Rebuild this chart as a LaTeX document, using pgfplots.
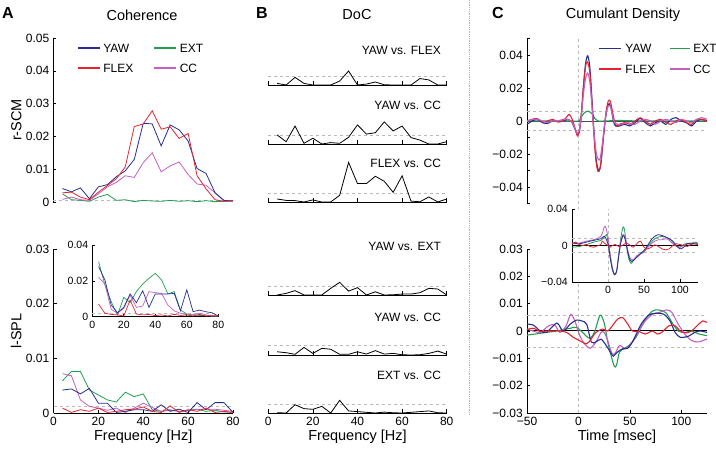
\documentclass[border=0pt]{standalone}
\usepackage{fontspec}
\setmainfont{Liberation Sans}
\usepackage{pgfplots}
\usepackage{pgfplotstable}
\pgfplotsset{compat=1.18}
\definecolor{cyaw}{RGB}{40,45,145}
\definecolor{cflex}{RGB}{230,35,45}
\definecolor{cext}{RGB}{30,160,80}
\definecolor{ccc}{RGB}{195,95,195}
\newcommand{\fs}[1]{\fontsize{#1}{#1}\selectfont}

\pgfplotstableread{
f yaw flex cc ext
4 0.0041 0.0028 0.0008 0.0025
8 0.0031 0.0030 0.0015 0.0007
12 0.0043 0.0015 0.0007 0.0005
16 0.0010 0.0007 0.0005 0.0002
20 0.0046 0.0030 0.0025 0.0015
24 0.0053 0.0050 0.0046 0.0023
28 0.0077 0.0071 0.0060 0.0005
32 0.0095 0.0107 0.0080 0.0007
36 0.0130 0.0230 0.0075 0.0001
40 0.0240 0.0238 0.0120 0.0005
44 0.0238 0.0278 0.0150 0.0003
48 0.0171 0.0222 0.0092 0.0002
52 0.0235 0.0229 0.0110 0.0005
56 0.0220 0.0194 0.0122 0.0002
60 0.0186 0.0209 0.0084 0.0004
64 0.0102 0.0080 0.0055 0.0001
68 0.0087 0.0040 0.0051 0.0004
72 0.0028 0.0007 0.0028 0.0001
76 0.0005 0.0002 0.0003 0.0002
80 0.0003 0.0004 0.0005 0.0002
}\cohtop

\pgfplotstableread{
f yaw flex cc ext
4 0.0042 0.0009 0.0072 0.0059
8 0.0044 0.0001 0.0068 0.0076
12 0.0035 0.0006 0.0024 0.0076
16 0.0045 0.0003 0.0012 0.0042
20 0.0018 0.0009 0.0009 0.0033
24 0.0018 0.0001 0.0005 0.0024
28 0.0001 0.0003 0.0009 0.0020
32 0.0003 0.0006 0.0001 0.0038
36 0.0006 0.0007 0.0009 0.0030
40 0.0006 0.0011 0.0018 0.0035
44 0.0003 0.0003 0.0010 0.0006
48 0.0015 0.0001 0.0003 0.0003
52 0.0003 0.0013 0.0006 0.0005
56 0.0007 0.0001 0.0003 0.0003
60 0.0001 0.0006 0.0005 0.0005
64 0.0019 0.0003 0.0006 0.0007
68 0.0006 0.0009 0.0007 0.0003
72 0.0019 0.0001 0.0007 0.0005
76 0.0019 0.0003 0.0005 0.0002
80 0.0001 0.0001 0.0003 0.0001
}\cohbot

\pgfplotstableread{
f yaw flex cc ext
4 0.0280 0.0070 0.0220 0.0307
8 0.0205 0.0019 0.0182 0.0177
12 0.0065 0.0013 0.0041 0.0084
16 0.0022 0.0010 0.0019 0.0010
20 0.0052 0.0004 0.0047 0.0108
24 0.0127 0.0093 0.0120 0.0078
28 0.0078 0.0015 0.0052 0.0140
32 0.0145 0.0010 0.0060 0.0182
36 0.0052 0.0013 0.0140 0.0214
40 0.0127 0.0006 0.0134 0.0242
44 0.0127 0.0010 0.0130 0.0205
48 0.0127 0.0004 0.0065 0.0127
52 0.0130 0.0013 0.0033 0.0140
56 0.0033 0.0007 0.0019 0.0037
60 0.0150 0.0010 0.0010 0.0015
64 0.0028 0.0004 0.0010 0.0010
68 0.0037 0.0013 0.0019 0.0007
72 0.0028 0.0004 0.0010 0.0006
76 0.0022 0.0006 0.0004 0.0004
80 0.0004 0.0004 0.0004 0.0004
}\cohins

\pgfplotstableread{
f yf yc fc ye yc2 ec
4 0.7 3.9 1.3 0.0 1.4 0.1
8 0.0 1.0 0.7 0.7 1.0 0.0
12 3.3 7.8 0.6 1.9 0.3 3.6
16 0.7 0.3 0.0 0.0 3.3 1.9
20 0.0 2.5 0.9 0.0 0.7 1.6
24 0.0 0.0 0.0 0.0 2.9 2.9
28 0.0 0.6 0.0 2.9 2.5 0.0
32 1.7 0.3 2.9 5.5 0.3 5.5
36 6.1 2.9 17.2 1.7 0.3 0.9
40 0.0 8.3 8.0 3.2 1.4 0.6
44 0.4 4.3 8.0 0.0 0.4 0.3
48 1.3 4.9 11.2 1.4 1.9 0.0
52 0.1 9.6 9.0 0.0 0.4 0.4
56 0.0 5.7 4.2 0.1 0.7 0.1
60 0.0 7.8 11.4 0.4 0.1 0.0
64 0.0 2.8 0.4 0.4 0.0 0.3
68 2.8 1.7 0.1 1.0 0.1 0.6
72 2.2 0.0 2.2 2.9 0.7 0.9
76 0.0 0.0 0.0 2.6 1.7 0.1
80 0.0 1.0 1.3 0.0 0.4 0.0
}\doc

\pgfplotsset{
  base/.style={scale only axis, clip=false, scaled ticks=false,
    axis line style={line width=0.6pt},
    tick style={black, line width=0.6pt},
    tick align=inside, major tick length=3pt, minor tick length=3pt,
    tick label style={font=\fs{12}, inner sep=1pt},
    xticklabel style={yshift=-3pt}, yticklabel style={xshift=-3pt},
    label style={font=\fs{14.5}},
  },
  thr/.style={gray!55, dashed, line width=0.6pt},
  dl/.style={line width=0.8pt},
  cl/.style={line width=1.1pt, smooth},
  lk/.style={line width=1.1pt, forget plot},
  doc/.style={base, width=178.4pt, height=46pt, xmin=0, xmax=80, ymin=0, ymax=20,
    axis x line*=bottom, axis y line=none, xtick={0,20,40,60,80}, xticklabels={},
    major tick length=3.5pt},
  docl/.style={black, line width=0.8pt},
}

\begin{document}
\begin{tikzpicture}
\path[use as bounding box] (0,0) rectangle (716pt,453pt);

% titles
\node[font=\fs{16}\bfseries] at (8pt,440pt) {A};
\node[font=\fs{14.5}] at (142pt,438pt) {Coherence};
\node[font=\fs{16}\bfseries] at (262pt,440pt) {B};
\node[font=\fs{14.5}] at (357pt,438pt) {DoC};
\node[font=\fs{16}\bfseries] at (498pt,440pt) {C};
\node[font=\fs{14.5}] at (623pt,438pt) {Cumulant Density};
\draw[gray!60, densely dotted, line width=0.8pt] (469.5pt,453pt) -- (469.5pt,38pt);

% ---------- A top ----------
\begin{axis}[base, at={(53.5pt,251pt)}, anchor=south west, width=179.5pt, height=164pt,
  xmin=0, xmax=80, ymin=0, ymax=0.05, axis x line=none, axis y line*=left,
  ytick={0,0.01,0.02,0.03,0.04,0.05}, yticklabels={0,0.01,0.02,0.03,0.04,0.05},
  ylabel={r-SCM}]
\addplot[thr] coordinates {(0,0.0006) (80,0.0006)};
\addplot[cext, dl] table[x=f, y=ext] {\cohtop};
\addplot[ccc, dl] table[x=f, y=cc] {\cohtop};
\addplot[cyaw, dl] table[x=f, y=yaw] {\cohtop};
\addplot[cflex, dl] table[x=f, y=flex] {\cohtop};
% legend keys
\addplot[cyaw, lk] coordinates {(10.9,0.04695) (20.7,0.04695)};
\addplot[cext, lk] coordinates {(44.8,0.04695) (54.6,0.04695)};
\addplot[cflex, lk] coordinates {(10.9,0.04085) (20.7,0.04085)};
\addplot[ccc, lk] coordinates {(44.8,0.04085) (54.6,0.04085)};
\node[anchor=west, font=\fs{12}, inner sep=0pt] at (axis cs:22.1,0.04695) {YAW};
\node[anchor=west, font=\fs{12}, inner sep=0pt] at (axis cs:56.2,0.04695) {EXT};
\node[anchor=west, font=\fs{12}, inner sep=0pt] at (axis cs:22.1,0.04085) {FLEX};
\node[anchor=west, font=\fs{12}, inner sep=0pt] at (axis cs:56.2,0.04085) {CC};
\end{axis}

% ---------- A bottom ----------
\begin{axis}[base, at={(53.5pt,40pt)}, anchor=south west, width=179.5pt, height=164pt,
  xmin=0, xmax=80, ymin=0, ymax=0.03, axis lines*=left,
  xtick={0,20,40,60,80}, xticklabels={0,20,40,60,80},
  ytick={0,0.01,0.02,0.03}, yticklabels={0,0.01,0.02,0.03},
  xlabel={Frequency [Hz]}, ylabel={l-SPL}]
\addplot[thr] coordinates {(0,0.0013) (80,0.0013)};
\addplot[cext, dl] table[x=f, y=ext] {\cohbot};
\addplot[ccc, dl] table[x=f, y=cc] {\cohbot};
\addplot[cyaw, dl] table[x=f, y=yaw] {\cohbot};
\addplot[cflex, dl] table[x=f, y=flex] {\cohbot};
\end{axis}

% ---------- A inset ----------
\begin{axis}[base, at={(92.3pt,136.3pt)}, anchor=south west, width=126pt, height=71.7pt,
  xmin=0, xmax=80, ymin=0, ymax=0.04, axis lines*=left,
  tick label style={font=\fs{10.5}},
  xtick={0,20,40,60,80}, xticklabels={0,20,40,60,80},
  ytick={0,0.02,0.04}, yticklabels={0,0.02,0.04}]
\addplot[thr] coordinates {(0,0.002) (80,0.002)};
\addplot[cext, line width=0.7pt] table[x=f, y=ext] {\cohins};
\addplot[ccc, line width=0.7pt] table[x=f, y=cc] {\cohins};
\addplot[cyaw, line width=0.7pt] table[x=f, y=yaw] {\cohins};
\addplot[cflex, line width=0.7pt] table[x=f, y=flex] {\cohins};
\end{axis}

% ---------- B DoC ----------
\begin{axis}[doc, at={(268.3pt,368pt)}, anchor=south west]
\addplot[thr] coordinates {(0,3.9) (80,3.9)};
\addplot[docl] table[x=f, y=yf] {\doc};
\node[anchor=east, font=\fs{12}] at (axis cs:79,15.2) {YAW vs. FLEX};
\end{axis}
\begin{axis}[doc, at={(268.3pt,309pt)}, anchor=south west]
\addplot[thr] coordinates {(0,3.9) (80,3.9)};
\addplot[docl] table[x=f, y=yc] {\doc};
\node[anchor=east, font=\fs{12}] at (axis cs:79,17) {YAW vs. CC};
\end{axis}
\begin{axis}[doc, at={(268.3pt,251pt)}, anchor=south west]
\addplot[thr] coordinates {(0,3.6) (80,3.6)};
\addplot[docl] table[x=f, y=fc] {\doc};
\node[anchor=east, font=\fs{12}] at (axis cs:79,17) {FLEX vs. CC};
\end{axis}
\begin{axis}[doc, at={(268.3pt,158pt)}, anchor=south west]
\addplot[thr] coordinates {(0,3.6) (80,3.6)};
\addplot[docl] table[x=f, y=ye] {\doc};
\node[anchor=east, font=\fs{12}] at (axis cs:79,21) {YAW vs. EXT};
\end{axis}
\begin{axis}[doc, at={(268.3pt,98pt)}, anchor=south west]
\addplot[thr] coordinates {(0,4.2) (80,4.2)};
\addplot[docl] table[x=f, y=yc2] {\doc};
\node[anchor=east, font=\fs{12}] at (axis cs:79,16.5) {YAW vs. CC};
\end{axis}
\begin{axis}[doc, at={(268.3pt,40pt)}, anchor=south west,
  axis y line*=left, ytick={0,20}, yticklabels={0,20},
  xticklabels={0,20,40,60,80}, xlabel={Frequency [Hz]}]
\addplot[thr] coordinates {(0,3.8) (80,3.8)};
\addplot[docl] table[x=f, y=ec] {\doc};
\node[anchor=east, font=\fs{12}] at (axis cs:79,16.5) {EXT vs. CC};
\end{axis}

% ---------- C top ----------
\begin{axis}[base, at={(527pt,249.5pt)}, anchor=south west, width=180pt, height=165pt,
  xmin=-50, xmax=125, ymin=-0.05, ymax=0.05, axis x line=none, axis y line*=left,
  ytick={-0.04,-0.02,0,0.02,0.04}, yticklabels={−0.04,−0.02,0,0.02,0.04},
  minor ytick={-0.05,-0.03,-0.01,0.01,0.03,0.05}]
\addplot[thr] coordinates {(-50,0.0056) (125,0.0056)};
\addplot[thr] coordinates {(-50,-0.0056) (125,-0.0056)};
\addplot[thr] coordinates {(0,0.05) (0,-0.079)};
\addplot[black!70, line width=1pt] coordinates {(-50,0) (125,0)};
\addplot[cext, cl] coordinates {(-50,0) (-30,0) (-10,0) (0,0) (2,0.0015) (5,0.0045) (9,0.006) (13,0.0045) (16,0.0015) (19,0) (25,0) (40,0.0003) (60,0) (80,0) (100,0) (125,0)};
\addplot[cyaw, cl] coordinates {(-50,-0.002) (-45,0.0) (-40,0.001) (-35,-0.001) (-30,-0.0015) (-25,0.0) (-20,-0.0005) (-15,0.0) (-10,0.001) (-7,0.0) (-4,-0.004) (-1,-0.008) (1,-0.006) (3,0.005) (5,0.022) (7,0.035) (9,0.0395) (11,0.033) (13,0.015) (15,-0.005) (17,-0.022) (19,-0.029) (20.5,-0.0295) (22,-0.025) (24,-0.012) (26,0.0) (28,0.008) (30,0.0105) (32,0.007) (34,0.0) (36,-0.003) (40,-0.003) (45,-0.002) (50,-0.003) (55,-0.001) (60,0.0015) (65,-0.001) (70,-0.003) (75,-0.001) (80,0.0) (85,-0.002) (90,0.001) (95,0.002) (100,0.0) (105,-0.001) (110,-0.003) (115,0.0) (120,0.001) (125,0.0)};
\addplot[cflex, cl] coordinates {(-50,0.0) (-45,0.001) (-40,0.0015) (-35,-0.0005) (-30,0.0) (-25,0.001) (-20,-0.0005) (-15,0.0) (-12,0.002) (-9,0.004) (-6,0.001) (-3,-0.005) (-1,-0.009) (1,-0.006) (3,0.006) (5,0.022) (7,0.033) (8.5,0.036) (11,0.03) (13,0.012) (15,-0.008) (17,-0.024) (19,-0.0305) (21,-0.029) (23,-0.018) (25,-0.005) (27,0.006) (29,0.012) (31,0.012) (33,0.006) (35,0.0) (37,-0.003) (40,-0.002) (45,-0.001) (50,-0.002) (55,0.0) (60,0.002) (65,0.0) (70,-0.002) (75,0.0) (80,0.001) (85,-0.001) (90,-0.002) (95,0.0) (100,0.001) (105,-0.001) (110,-0.002) (115,0.001) (120,0.001) (125,0.0)};
\addplot[ccc, cl] coordinates {(-50,0.0) (-45,0.001) (-40,0.001) (-35,0.0) (-30,-0.001) (-25,0.0) (-20,0.0) (-15,0.001) (-10,0.001) (-6,-0.001) (-3,-0.005) (-1,-0.0075) (1,-0.005) (3,0.004) (5,0.017) (7,0.026) (9,0.029) (11,0.024) (13,0.01) (15,-0.006) (17,-0.018) (19,-0.023) (21,-0.023) (23,-0.015) (25,-0.004) (27,0.005) (29,0.009) (31,0.009) (33,0.004) (35,-0.001) (38,-0.002) (42,-0.002) (48,-0.001) (55,-0.002) (60,0.0) (65,0.001) (70,0.0) (75,-0.002) (80,0.0) (85,0.001) (90,0.0) (95,-0.001) (100,0.001) (105,0.0) (110,-0.001) (115,0.001) (120,0.002) (125,0.001)};
% legend keys
\addplot[cyaw, lk] coordinates {(20.2,0.0442) (41.3,0.0442)};
\addplot[cext, lk] coordinates {(89.4,0.0442) (108.7,0.0442)};
\addplot[cflex, lk] coordinates {(20.2,0.0315) (41.3,0.0315)};
\addplot[ccc, lk] coordinates {(89.4,0.0315) (108.7,0.0315)};
\node[anchor=west, font=\fs{12}, inner sep=0pt] at (axis cs:45.5,0.0442) {YAW};
\node[anchor=west, font=\fs{12}, inner sep=0pt] at (axis cs:111.5,0.0442) {EXT};
\node[anchor=west, font=\fs{12}, inner sep=0pt] at (axis cs:45.5,0.0315) {FLEX};
\node[anchor=west, font=\fs{12}, inner sep=0pt] at (axis cs:111.5,0.0315) {CC};
\end{axis}

% ---------- C bottom ----------
\begin{axis}[base, at={(527pt,40pt)}, anchor=south west, width=180pt, height=164pt,
  xmin=-50, xmax=125, ymin=-0.03, ymax=0.03, axis lines*=left,
  xtick={-50,0,50,100}, xticklabels={−50,0,50,100},
  ytick={-0.03,-0.02,-0.01,0,0.01,0.02,0.03}, yticklabels={−0.03,−0.02,−0.01,0,0.01,0.02,0.03},
  xlabel={Time [msec]}]
\addplot[thr] coordinates {(-50,0.0058) (125,0.0058)};
\addplot[thr] coordinates {(-50,-0.0058) (125,-0.0058)};
\addplot[thr] coordinates {(0,-0.03) (0,0.03)};
\addplot[black, line width=1pt] coordinates {(-50,0) (125,0)};
\addplot[cext, cl] coordinates {(-50,-0.0015) (-40,-0.001) (-31,-0.0005) (-21,0.0) (-8,0.001) (-2,0.0013) (4,-0.0005) (11,-0.0027) (16,0.0) (21,0.0058) (25,0.003) (28.5,-0.004) (32.5,-0.010) (35,-0.013) (37,-0.0125) (40,-0.0077) (44.5,-0.0065) (49,-0.0053) (56,-0.0023) (60,0.0007) (65,0.0043) (72,0.0073) (78,0.0077) (85,0.0067) (91,0.0031) (97,0.0) (104,-0.0005) (110,0.0) (117,-0.0011) (125,-0.0017)};
\addplot[ccc, cl] coordinates {(-50,0.0007) (-44,0.0) (-37,-0.0005) (-29,0.0019) (-23,0.0022) (-18,-0.0005) (-12,0.0019) (-7.5,0.0061) (-3.5,0.0037) (1.3,-0.0017) (6,-0.0047) (11.5,-0.0063) (17,-0.004) (22,-0.0005) (25,-0.0005) (28.5,-0.0035) (32.7,-0.0083) (36,-0.008) (40,-0.0053) (46,-0.0065) (52.5,-0.004) (59,0.0001) (65,0.0037) (72,0.0061) (78,0.0067) (86,0.0077) (91,0.0067) (97,0.0025) (104,-0.0014) (110,-0.0035) (117,-0.004) (125,-0.0029)};
\addplot[cyaw, cl] coordinates {(-50,0.0025) (-44,0.0022) (-37,0.0) (-31,-0.0005) (-21,0.0029) (-15,0.0) (-8,0.0025) (-2,0.004) (3,0.0037) (8,0.0025) (12.5,-0.004) (17,-0.004) (22,-0.003) (27,-0.0053) (32,-0.0083) (34,-0.0092) (38,-0.0077) (43,-0.0065) (48,-0.0063) (52.5,-0.004) (57,-0.0005) (62,0.0031) (68.5,0.0058) (75,0.0065) (83,0.0061) (89,0.0037) (94,-0.0005) (99,-0.0023) (107,-0.0019) (113,-0.0005) (118,0.0) (125,-0.0005)};
\addplot[cflex, cl] coordinates {(-50,0.0005) (-44,0.001) (-37,-0.0002) (-31,0.0) (-24,0.0) (-18,0.0) (-11.5,-0.0005) (-5,-0.0023) (3,-0.0039) (8,-0.0047) (12.5,-0.0029) (17,-0.0005) (23.7,0.0007) (28.5,0.0) (33,0.0019) (38,0.0043) (43,0.0049) (48,0.0025) (52.5,0.0) (59,-0.0002) (65,-0.0011) (72,0.0) (76.6,-0.0011) (81,-0.0005) (88,0.0019) (94,0.0019) (99,0.0) (104,-0.0007) (110,0.0) (117,0.0025) (121,0.0037) (125,0.0031)};
\end{axis}

% ---------- C inset ----------
\begin{axis}[base, at={(572pt,171pt)}, anchor=south west, width=126pt, height=73pt,
  xmin=-50, xmax=125, ymin=-0.04, ymax=0.04, axis lines*=left,
  axis background/.style={fill=white},
  tick label style={font=\fs{10.5}},
  xtick={0,50,100}, xticklabels={0,50,100},
  ytick={-0.04,0,0.04}, yticklabels={−0.04,0,0.04}]
\addplot[thr] coordinates {(-50,0.008) (125,0.008)};
\addplot[thr] coordinates {(-50,-0.008) (125,-0.008)};
\addplot[thr] coordinates {(0,-0.04) (0,0.04)};
\addplot[black, line width=1pt] coordinates {(-50,0) (125,0)};
\addplot[cext, smooth, line width=0.8pt] coordinates {(-50,-0.0019) (-40,-0.0011) (-30,0.001) (-20,0.0037) (-10,0.0056) (-5,0.0093) (-2,0.012) (0,0.0037) (3,-0.013) (6,-0.026) (9,-0.032) (12,-0.0285) (15,-0.009) (18,0.0093) (21,0.0204) (23,0.0167) (26,-0.0019) (29,-0.0148) (32,-0.0196) (35,-0.0167) (40,-0.0122) (45,-0.0085) (50,-0.0056) (55,-0.0011) (60,0.0037) (65,0.0074) (70,0.0093) (75,0.01) (80,0.0093) (85,0.0074) (90,0.0037) (95,0.0) (100,-0.0019) (105,0.0011) (110,0.0026) (115,0.0019) (120,0.0037) (125,0.0026)};
\addplot[ccc, smooth, line width=0.8pt] coordinates {(-50,0.0026) (-40,0.0026) (-30,0.0048) (-20,0.0063) (-10,0.01) (-5,0.0204) (-3,0.0196) (0,0.0093) (3,-0.0093) (6,-0.0233) (9,-0.0315) (12,-0.028) (15,-0.0093) (18,0.0063) (21,0.0122) (24,0.0085) (27,-0.0037) (30,-0.0122) (33,-0.016) (36,-0.015) (40,-0.0111) (45,-0.0093) (50,-0.0074) (55,-0.0026) (60,0.0019) (65,0.0048) (70,0.0063) (75,0.0063) (80,0.0074) (85,0.0056) (90,0.0019) (95,-0.0011) (100,-0.0019) (105,0.0) (110,0.0019) (115,0.0011) (120,0.0026) (125,0.0019)};
\addplot[cyaw, smooth, line width=0.8pt] coordinates {(-50,0.003) (-40,0.0019) (-30,0.0037) (-20,0.0056) (-10,0.0074) (-5,0.01) (0,0.0019) (3,-0.013) (6,-0.026) (9,-0.032) (12,-0.028) (15,-0.011) (18,0.0037) (21,0.011) (24,0.0063) (27,-0.0056) (30,-0.0148) (33,-0.0174) (36,-0.016) (40,-0.013) (45,-0.0093) (50,-0.0056) (55,0.0) (60,0.0063) (65,0.01) (70,0.0119) (75,0.011) (80,0.0093) (85,0.0074) (90,0.0048) (95,0.0) (100,-0.0037) (105,-0.0019) (110,0.0019) (115,0.0026) (120,0.0019) (125,0.0011)};
\addplot[cflex, smooth, line width=0.8pt] coordinates {(-50,0.0019) (-45,0.0037) (-40,0.0011) (-35,0.0) (-30,0.0011) (-25,-0.0011) (-20,-0.0019) (-15,-0.0004) (-10,0.0011) (-8,0.0048) (-5,0.0026) (0,0.0) (3,-0.0019) (6,0.0) (10,0.0011) (15,-0.0011) (20,0.0) (25,0.0026) (30,0.0007) (35,-0.0019) (40,0.0019) (45,0.0048) (50,-0.0019) (55,-0.0037) (60,-0.0019) (65,0.0007) (70,-0.0011) (75,-0.0037) (80,-0.0048) (85,-0.0037) (90,0.0) (95,0.0019) (100,0.0011) (105,0.0) (110,-0.0011) (115,0.0011) (120,0.0019) (125,0.0011)};
\end{axis}
\end{tikzpicture}
\end{document}
